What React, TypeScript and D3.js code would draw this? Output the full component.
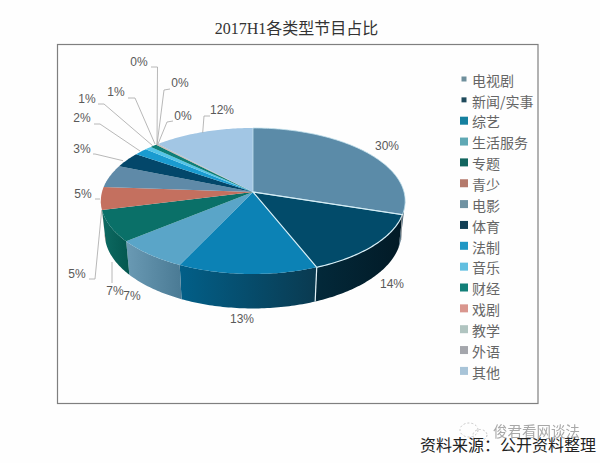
import React from "react";
import * as d3 from "d3";

const categories = ["电视剧", "新闻/实事", "综艺", "生活服务", "专题", "青少", "电影", "体育", "法制", "音乐", "财经", "戏剧", "教学", "外语", "其他"];
const shares = [29.9, 14, 13.2, 7, 7, 5, 5, 3.4, 1.6, 0.8, 0.8, 0.1, 0.1, 0.1, 12];
const topColors = ["#5b8ba8", "#024b6a", "#0c82b5", "#5aa5c8", "#0a7068", "#c4705f", "#5f8aa8", "#03476a", "#1a9bd0", "#55c5e8", "#0e7f78", "#d99085", "#a8c0bc", "#a0a5aa", "#a2c6e4"];
const legendColors = ["#6f8f9c", "#1f4a5c", "#15809f", "#5fa8b4", "#12655f", "#b57a6c", "#6f92a2", "#123f55", "#1f97c4", "#62bfe0", "#127f78", "#d9968e", "#b0c4c0", "#a4a6ac", "#a8c4d8"];
const wallFrom = ["#3c627a", "#03293a", "#025f88", "#6a9ab4", "#0d6a62", "#a85f50", "#4d7a94", "#023a55", "#1180a8", "#3ca5c8", "#0a6660", "#b87a70", "#90a6a2", "#8a8e92", "#86a8c4"];
const wallTo = ["#2c4c60", "#021a26", "#0a3a50", "#4a7a94", "#04574f", "#8a4c40", "#3c6278", "#012c42", "#0c6a8c", "#3090b0", "#08544f", "#a06860", "#809490", "#787c80", "#7090aa"];

// label boxes and leader lines, same order as the categories
const labelAt: [number, number][] = [[387, 147], [392, 285], [242, 320], [132, 297], [115, 292], [83, 195], [77, 275], [82, 150], [82, 119], [87, 100], [116, 93], [139, 63], [180, 84], [183, 117], [222, 111]];
const leaders: [number, number][][] = [
  [],
  [[402, 215], [401, 240]],
  [],
  [],
  [[112, 262], [112, 283]],
  [[100, 199], [95, 199]],
  [[101.7, 210], [95, 279], [89, 279]],
  [[123, 160.7], [95, 154], [93, 154]],
  [[140, 151], [100, 124], [94, 124]],
  [[152.7, 145.7], [104, 104], [98, 104]],
  [[155, 144], [135, 98], [128, 98]],
  [[157, 145], [157.5, 67], [151, 67]],
  [[157, 145], [164, 90], [170, 89]],
  [[158, 144], [167, 122], [173, 121]],
  [[202.7, 132.7], [204, 116], [210, 116]],
];

const WIDTH = 600;
const HEIGHT = 463;
const cx = 253;
const cy = 192;
const rx = 151;
const ry = 71.9;
const tilt = 0.123;
const fontCjk = "'Noto Sans CJK SC', 'Noto Sans', sans-serif";
const fontLatin = "'Liberation Sans', Arial, sans-serif";

// angle is clockwise from 12 o'clock, nearer edge gets larger
const rimTop = (a: number): [number, number] => {
  const u = Math.sin(a);
  const v = -Math.cos(a);
  const w = 1 - tilt * v;
  return [cx + (rx * u) / w, cy + (ry * v) / w];
};
const rimBottom = (a: number): [number, number] => {
  const [x, y] = rimTop(a);
  return [cx + (x - cx) * 0.975, y + (y - cy) * 0.03 + 32];
};
const sample = (a0: number, a1: number) => {
  const n = Math.max(2, Math.ceil((a1 - a0) * 60));
  return d3.range(n + 1).map((i) => a0 + ((a1 - a0) * i) / n);
};

const pie = d3.pie<number>().sort(null).value((d) => d);
const slices = pie(shares);
const line = d3.line<[number, number]>();

// the wall only shows on the near side of the widest point
const wallStart = Math.PI - Math.acos(tilt);
const wallEnd = Math.PI + Math.acos(tilt);

const App = () => {
  const walls = slices
    .map((s, i) => {
      const a0 = Math.max(s.startAngle, wallStart);
      const a1 = Math.min(s.endAngle, wallEnd);
      if (a1 <= a0) return null;
      const angles = sample(a0, a1);
      const pts = [...angles.map(rimTop), ...angles.slice().reverse().map(rimBottom)];
      return { i, d: line(pts) + "Z" };
    })
    .filter(Boolean) as { i: number; d: string }[];

  const faces = slices.map((s) => {
    const pts: [number, number][] = [[cx, cy], ...sample(s.startAngle, s.endAngle).map(rimTop)];
    return line(pts) + "Z";
  });

  const seamAngle = slices[1].endAngle;

  return (
    <svg
      width={WIDTH}
      height={HEIGHT}
      style={{ position: "absolute", left: 0, top: 0, background: "#fefefe" }}
    >
      <defs>
        {walls.map(({ i }) => (
          <linearGradient key={i} id={`wall-${i}`} x1="0" x2="1" y1="0" y2="0">
            <stop offset="0%" stopColor={wallFrom[i]} />
            <stop offset="100%" stopColor={wallTo[i]} />
          </linearGradient>
        ))}
        <filter id="soft" x="-5%" y="-20%" width="110%" height="140%">
          <feGaussianBlur stdDeviation="0.5" />
        </filter>
      </defs>

      <text x={296.5} y={34} textAnchor="middle" fontSize={16} fill="#333" fontFamily={fontCjk}>
        <tspan fontFamily="'Liberation Serif', serif">2017H1</tspan>各类型节目占比
      </text>
      <rect x={57.5} y={44.5} width={480.5} height={359} fill="#fefefe" stroke="#7f7f7f" strokeWidth={1.2} />

      {walls.map(({ i, d }) => (
        <path key={i} d={d} fill={`url(#wall-${i})`} />
      ))}
      <path d={line([rimTop(seamAngle), rimBottom(seamAngle)]) ?? ""} stroke="#e4f3f8" strokeWidth={1.2} fill="none" />
      {faces.map((d, i) => (
        <path key={categories[i]} d={d} fill={topColors[i]} />
      ))}
      {[0, 1].map((i) => (
        <path key={i} d={faces[i]} fill="none" stroke={i === 1 ? "#d6eef6" : "#c4e2ee"} strokeWidth={i === 1 ? 1.2 : 0.8} />
      ))}

      {leaders.map((pts, i) =>
        pts.length ? <path key={i} d={line(pts) ?? ""} fill="none" stroke="#a6a6a6" strokeWidth={0.8} /> : null,
      )}
      {shares.map((v, i) => (
        <text
          key={i}
          x={labelAt[i][0]}
          y={labelAt[i][1]}
          textAnchor="middle"
          dominantBaseline="middle"
          fontSize={12}
          fill="#595959"
          fontFamily={fontLatin}
        >
          {`${Math.round(v)}%`}
        </text>
      ))}

      {categories.map((name, i) => {
        const y = 79 + i * 20.85;
        const size = i < 2 ? 5 : 8;
        return (
          <g key={name}>
            <rect x={464 - size / 2} y={y - size / 2} width={size} height={size} fill={legendColors[i]} />
            <text x={472} y={y + 3} dominantBaseline="middle" fontSize={14} fill="#666" fontFamily={fontCjk}>
              {name}
            </text>
          </g>
        );
      })}

      <g filter="url(#soft)" fill="none" stroke="#c4c4c4" strokeDasharray="2 2">
        <ellipse cx={469} cy={430} rx={9} ry={7} />
        <ellipse cx={480} cy={435} rx={7} ry={5.5} />
      </g>
      <text x={493} y={437} fontSize={14.5} fill="#a8a8a8" filter="url(#soft)" fontFamily={fontCjk}>
        俊君看网谈法
      </text>
      <text x={420} y={451} fontSize={16} fill="#222" fontFamily={fontCjk}>
        资料来源：公开资料整理
      </text>
    </svg>
  );
};

export default App;
